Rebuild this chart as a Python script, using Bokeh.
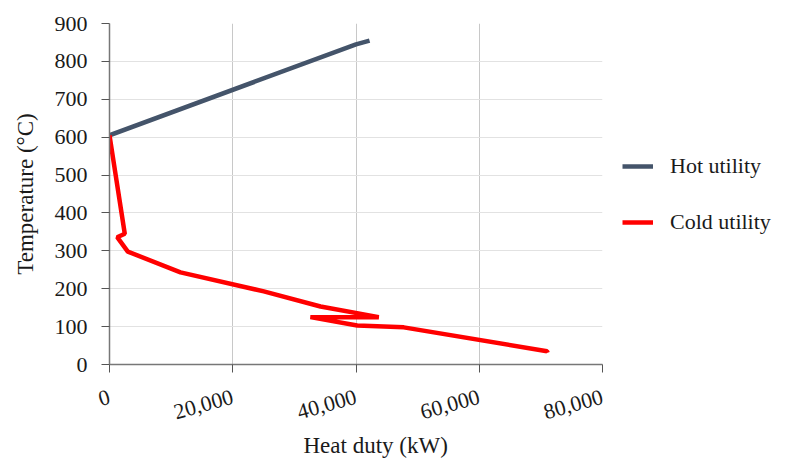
from bokeh.plotting import figure
from bokeh.models import (Range1d, FixedTicker, NumeralTickFormatter, Legend, LegendItem, Title)
from bokeh.embed import file_html
from bokeh.resources import INLINE

# ---- data ----
hot_duty = [0, 40000, 42200]
hot_temp = [605, 845, 855]

cold_duty = [0, 2480, 1250, 2970, 11520, 25040, 34240, 43700, 32600, 40200, 47750, 71000, 71100]
cold_temp = [605, 345, 336, 298, 243, 193, 153, 125, 125, 103, 98, 35, 31]

x_ticks = [0, 20000, 40000, 60000, 80000]
y_ticks = [0, 100, 200, 300, 400, 500, 600, 700, 800, 900]

FONT = "Liberation Serif"

p = figure(frame_width=493, frame_height=341, output_backend="svg", toolbar_location=None,
           x_range=Range1d(0, 80000), y_range=Range1d(0, 900),
           min_border_left=109, min_border_right=191, min_border_top=23, min_border_bottom=95)
p.outline_line_color = None
p.background_fill_color = "white"

# grids
p.xgrid.ticker = FixedTicker(ticks=x_ticks)
p.ygrid.ticker = FixedTicker(ticks=y_ticks)
p.xgrid.grid_line_color = "#c8c8c8"
p.ygrid.grid_line_color = "#e2e2e2"
p.xgrid.grid_line_width = 1
p.ygrid.grid_line_width = 1

# axes
p.xaxis.ticker = FixedTicker(ticks=x_ticks)
p.yaxis.ticker = FixedTicker(ticks=y_ticks)
p.xaxis.formatter = NumeralTickFormatter(format="0,0")
p.xaxis.major_label_orientation = 0.27
for ax in (p.xaxis, p.yaxis):
    ax.axis_line_color = "#777777"
    ax.axis_line_width = 1.5
    ax.major_tick_line_color = "#555555"
    ax.major_tick_out = 8
    ax.major_tick_in = 0
    ax.minor_tick_line_color = None
    ax.major_label_text_font = FONT
    ax.major_label_text_font_size = "22px"
    ax.major_label_text_color = "#1a1a1a"
    ax.axis_label_text_font = FONT
    ax.axis_label_text_font_size = "23px"
    ax.axis_label_text_font_style = "normal"
    ax.axis_label_text_color = "#1a1a1a"
p.xaxis.major_label_standoff = 24
p.yaxis.major_label_standoff = 14
p.yaxis.axis_label = "Temperature (°C)"
p.yaxis.axis_label_standoff = 14

# lines
hot = p.line(hot_duty, hot_temp, line_color="#44546A", line_width=4.5)
cold = p.line(cold_duty, cold_temp, line_color="#FF0000", line_width=4.5)

# x title (sits right of centre, as in the reference)
p.add_layout(Title(text="Heat duty (kW)", align="left", offset=194, standoff=2,
                   text_font=FONT, text_font_size="23px", text_font_style="normal",
                   text_color="#1a1a1a"), "below")

legend = Legend(items=[LegendItem(label="Hot utility", renderers=[hot]),
                       LegendItem(label="Cold utility", renderers=[cold])],
                location="center_left", glyph_width=31, glyph_height=20, label_height=20,
                label_standoff=17, spacing=30, padding=0, margin=20,
                border_line_color=None, background_fill_alpha=0,
                label_text_font=FONT, label_text_font_size="22px", label_text_color="#1a1a1a")
p.add_layout(legend, "right")

open("out.html", "w").write(file_html(p, INLINE))
